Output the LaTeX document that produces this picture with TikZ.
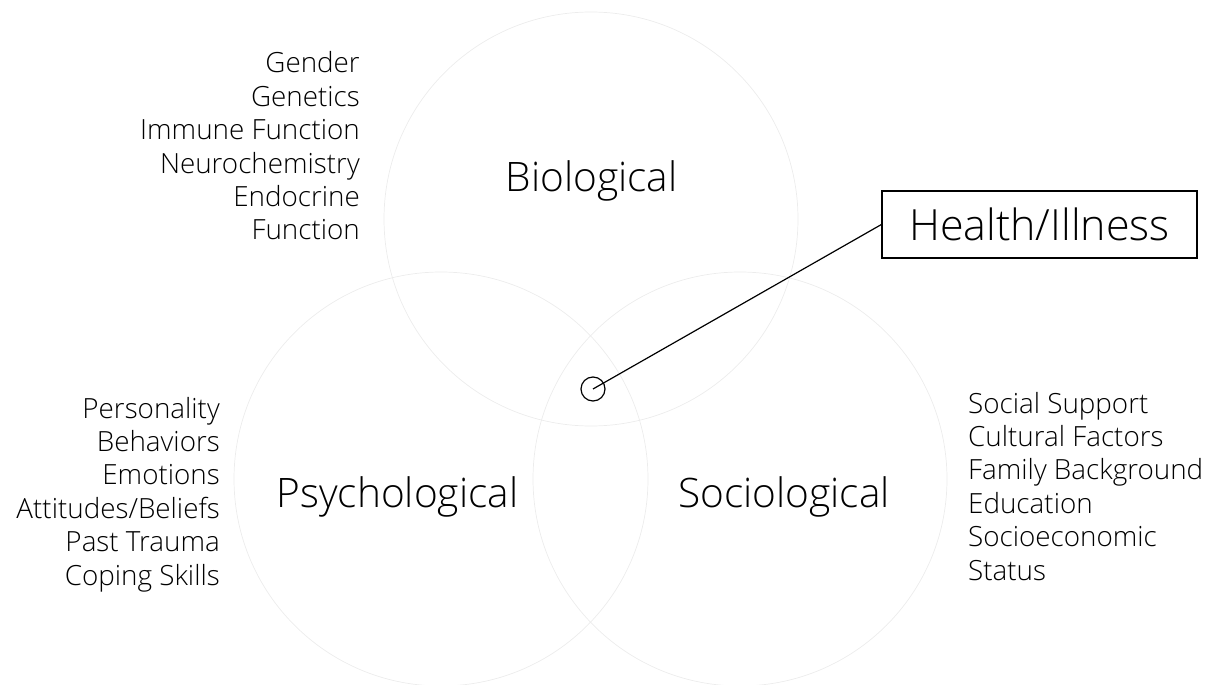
\documentclass[tikz,border=0pt]{standalone}
\usepackage{fontspec}
\setmainfont{Open Sans}[UprightFont={* Light}]
\definecolor{ringgray}{HTML}{ECECEC}
\tikzset{
  ring/.style={draw=ringgray, line width=0.7bp},
  biglabel/.style={font=\fontsize{40.6bp}{50bp}\selectfont, anchor=base, inner sep=0pt},
  listtext/.style={font=\fontsize{27.8bp}{33.4bp}\selectfont, inner sep=0pt},
  hbox/.style={draw, line width=1.2bp, minimum width=315bp, minimum height=67bp, inner sep=0pt, font=\fontsize{43bp}{50bp}\selectfont},
  dotc/.style={circle, draw, line width=1.2bp, minimum size=24bp, inner sep=0pt},
  conn/.style={line width=1.2bp}
}
\begin{document}
\begin{tikzpicture}[x=1bp,y=-1bp]
\useasboundingbox (0,0) rectangle (1207,685);
\draw[ring] (591,219) circle[radius=207bp];
\draw[ring] (441,479) circle[radius=207bp];
\draw[ring] (740,479) circle[radius=207bp];
\node[biglabel] (bio) at (591.5,192) {Biological};
\node[biglabel] (psy) at (397.5,507) {Psychological};
\node[biglabel] (soc) at (784,507) {Sociological};
\node[listtext, align=right, anchor=base east] (biolist) at (360,240) {Gender\\Genetics\\Immune Function\\Neurochemistry\\Endocrine\\Function};
\node[listtext, align=right, anchor=base east] (psylist) at (220,585) {Personality\\Behaviors\\Emotions\\Attitudes/Beliefs\\Past Trauma\\Coping Skills};
\node[listtext, align=left, anchor=base west] (soclist) at (968,580) {Social Support\\Cultural Factors\\Family Background\\Education\\Socioeconomic\\Status};
\node[hbox] (hi) at (1039.5,224.5) {Health/Illness};
\node[dotc] (dot) at (593,389) {};
\draw[conn] (dot.center) -- (hi.west);
\end{tikzpicture}
\end{document}
